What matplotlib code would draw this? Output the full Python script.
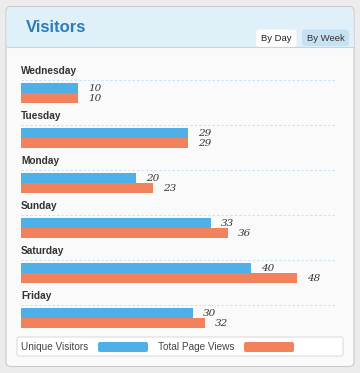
import numpy as np
import matplotlib
matplotlib.use("Agg")
import matplotlib.pyplot as plt
from matplotlib.patches import FancyBboxPatch, Rectangle

days = ["Wednesday", "Tuesday", "Monday", "Sunday", "Saturday", "Friday"]
unique_visitors = [10, 29, 20, 33, 40, 30]
page_views = [10, 29, 23, 36, 48, 32]
series_names = ["Unique Visitors", "Total Page Views"]
tabs = ["By Day", "By Week"]
title = "Visitors"

blue = "#4eb0e6"
orange = "#f2825c"
W, H = 360, 373

fig = plt.figure(figsize=(W / 100, H / 100), dpi=100)
fig.patch.set_facecolor("#ececec")

# decoration layer in pixel units
bg = fig.add_axes([0, 0, 1, 1])
bg.set_xlim(0, W)
bg.set_ylim(H, 0)
bg.axis("off")

bg.add_patch(FancyBboxPatch((6, 6.5), 348, 360, boxstyle="round,pad=0,rounding_size=5",
                            fc="#fafafa", ec="#c9c9c9", lw=0.8))
bg.add_patch(FancyBboxPatch((6.5, 7), 347, 39.5, boxstyle="round,pad=0,rounding_size=5",
                            fc="#dff0f8", ec="none"))
bg.add_patch(Rectangle((6.5, 36), 347, 10.5, fc="#dff0f8", ec="none"))
bg.plot([6.5, 353.5], [46.5, 46.5], color="#b9d8ea", lw=0.8)
bg.text(25.5, 27, title, fontsize=12, fontweight="bold", color="#2b7cbb",
        family="Liberation Sans", va="center", ha="left")

bg.add_patch(FancyBboxPatch((256, 29.5), 40.5, 17.5, boxstyle="round,pad=0,rounding_size=3",
                            fc="#fdfdfd", ec="none"))
bg.add_patch(FancyBboxPatch((302, 29.5), 47, 16.5, boxstyle="round,pad=0,rounding_size=3",
                            fc="#c6e1f1", ec="none"))
bg.text(276.5, 38.5, tabs[0], fontsize=6.8, color="#222222", family="Liberation Sans",
        ha="center", va="center")
bg.text(325.5, 38.5, tabs[1], fontsize=6.8, color="#333333", family="Liberation Sans",
        ha="center", va="center")

# legend box
bg.add_patch(FancyBboxPatch((17, 337), 326, 19, boxstyle="round,pad=0,rounding_size=2",
                            fc="white", ec="#dddddd", lw=0.8))
bg.text(21, 347, series_names[0], fontsize=7.2, color="#444444", family="Liberation Sans",
        va="center")
bg.add_patch(FancyBboxPatch((98, 342), 50, 10, boxstyle="round,pad=0,rounding_size=2",
                            fc=blue, ec="none"))
bg.text(158, 347, series_names[1], fontsize=7.2, color="#444444", family="Liberation Sans",
        va="center")
bg.add_patch(FancyBboxPatch((244, 342), 50, 10, boxstyle="round,pad=0,rounding_size=2",
                            fc=orange, ec="none"))

# bar chart axes: 21..337 px wide, 62..332 px tall
ax = fig.add_axes([21 / W, 1 - 332 / H, 316 / W, 270 / H])
ax.set_xlim(0, 55)
ax.set_ylim(6, 0)
ax.axis("off")
ax.patch.set_alpha(0)

idx = np.arange(len(days))
bh = 10 / 45
ax.barh(idx + 0.584, unique_visitors, height=bh, color=blue, lw=0)
ax.barh(idx + 0.584 + bh, page_views, height=bh, color=orange, lw=0)

for i, d in enumerate(days):
    ax.text(0, i + 0.2, d, fontsize=7.3, fontweight="bold", color="#333333",
            family="Liberation Sans", va="center", ha="left")
    ax.plot([0, 55.5], [i + 0.389, i + 0.389], color="#c4e4f5", lw=0.8, ls=(0, (2, 2)))
    ax.annotate(str(unique_visitors[i]), (unique_visitors[i], i + 0.584),
                xytext=(7.2, 0), textcoords="offset points", fontsize=7.5, style="italic",
                family="DejaVu Serif", color="#333333", va="center")
    ax.annotate(str(page_views[i]), (page_views[i], i + 0.584 + bh),
                xytext=(7.2, 0), textcoords="offset points", fontsize=7.5, style="italic",
                family="DejaVu Serif", color="#333333", va="center")

fig.savefig("out.png", dpi=100, facecolor=fig.get_facecolor())
